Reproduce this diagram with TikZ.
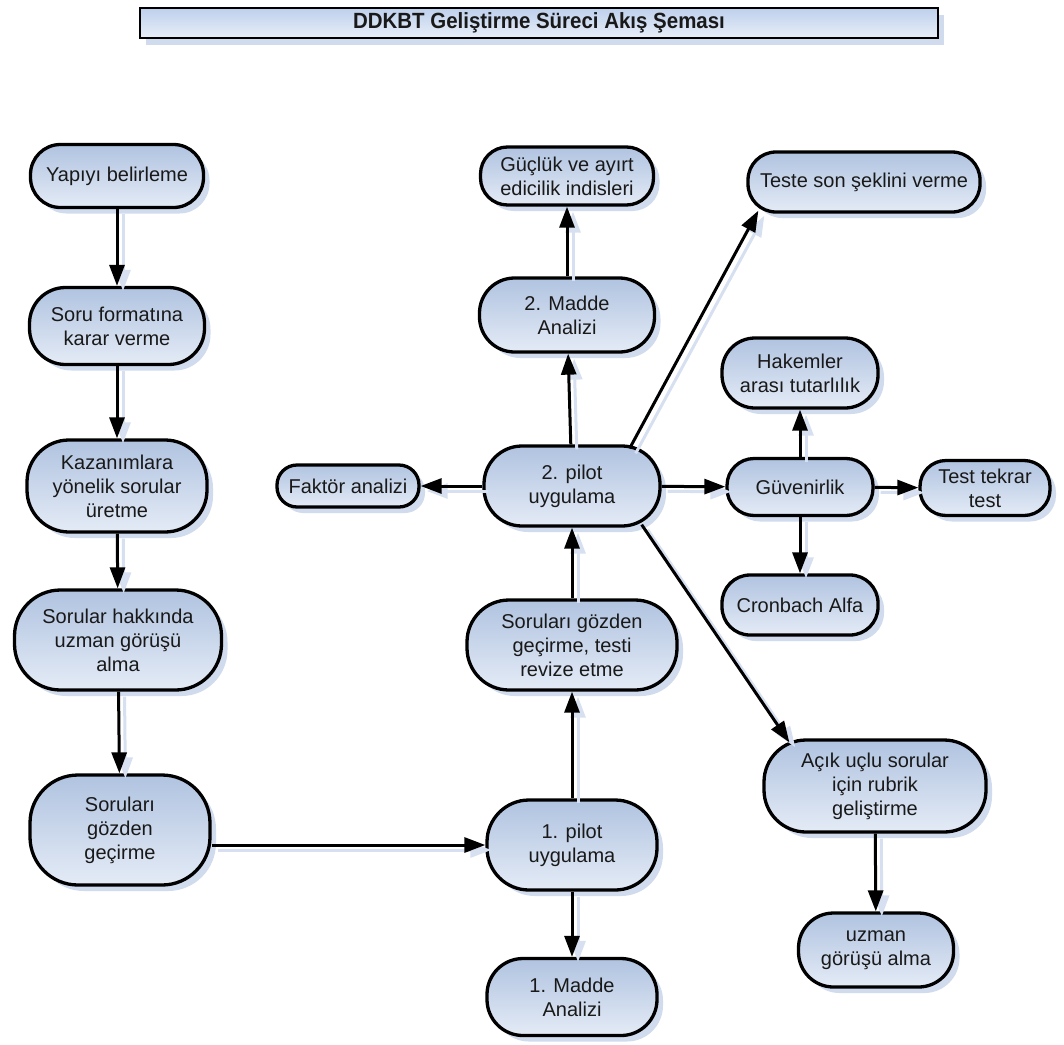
\documentclass[tikz,border=0pt]{standalone}
\usepackage{fontspec}
\setmainfont{Liberation Sans}
\usetikzlibrary{arrows.meta,shadows,calc}
\definecolor{topc}{RGB}{176,195,224}
\definecolor{botc}{RGB}{228,235,246}
\definecolor{shad}{RGB}{196,210,232}
\definecolor{ashad}{RGB}{214,224,240}
\definecolor{txt}{RGB}{25,25,25}
\definecolor{ttop}{RGB}{190,208,236}
\definecolor{tbot}{RGB}{232,238,248}
\begin{document}
\begin{tikzpicture}[x=1pt,y=-1pt,
  pill/.style n args={3}{draw=black, line width=3.3pt, rounded corners=#3,
    minimum width=#1, minimum height=#2, inner sep=0pt, align=center,
    top color=topc, bottom color=botc, text=txt,
    font=\fontsize{20}{24}\selectfont,
    drop shadow={shadow xshift=6pt, shadow yshift=-6pt, fill=shad, opacity=0.8}},
  titlebox/.style={draw=black, line width=2.8pt, minimum width=798pt, minimum height=30pt,
    inner sep=0pt, top color=ttop, bottom color=tbot, text=txt,
    font=\bfseries\fontsize{22}{24}\selectfont\addfontfeature{FakeStretch=0.93},
    drop shadow={shadow xshift=6pt, shadow yshift=-7pt, fill=shad, opacity=0.8}},
  arr/.style={line width=3pt, -{Triangle[length=21pt,width=15pt]},
    preaction={draw=ashad, line width=3pt, -{Triangle[length=21pt,width=15pt]},
      transform canvas={xshift=6pt,yshift=-5pt}}},
]
\useasboundingbox (0,0) rectangle (1064,1044);

\node[titlebox] (title) at (539,23) {DDKBT Geliştirme Süreci Akış Şeması};

\node[pill={173pt}{63pt}{30pt}] (yap) at (117,176) {Yapıyı belirleme};
\node[pill={175pt}{77pt}{36pt}] (fmt) at (117,326) {Soru formatına\\karar verme};
\node[pill={180pt}{92pt}{42pt}] (kaz) at (117,486) {Kazanımlara\\yönelik sorular\\üretme};
\node[pill={207pt}{100pt}{46pt}] (uzm) at (118,640) {Sorular hakkında\\uzman görüşü\\alma};
\node[pill={180pt}{110pt}{48pt}] (gzd) at (120,830) {Soruları\\gözden\\geçirme};
\node[pill={170pt}{90pt}{42pt}] (p1) at (572,845) {1. pilot\\uygulama};
\node[pill={170pt}{77pt}{36pt}] (md1) at (572,997) {1. Madde\\Analizi};
\node[pill={210pt}{90pt}{42pt}] (rev) at (572,645) {Soruları gözden\\geçirme, testi\\revize etme};
\node[pill={176pt}{80pt}{38pt}] (p2) at (572,486) {2. pilot\\uygulama};
\node[pill={142pt}{42pt}{20pt}] (fak) at (348,486) {Faktör analizi};
\node[pill={175pt}{74pt}{35pt}] (md2) at (567,315) {2. Madde\\Analizi};
\node[pill={173pt}{58pt}{27pt}] (guc) at (567,176) {Güçlük ve ayırt\\edicilik indisleri};
\node[pill={232pt}{60pt}{28pt}] (tst) at (864,182) {Teste son şeklini verme};
\node[pill={156pt}{70pt}{33pt}] (hak) at (800,373) {Hakemler\\arası tutarlılık};
\node[pill={146pt}{57pt}{27pt}] (guv) at (800,487) {Güvenirlik};
\node[pill={130pt}{55pt}{26pt}] (ttt) at (985,488) {Test tekrar\\test};
\node[pill={156pt}{60pt}{28pt}] (cro) at (800,605) {Cronbach Alfa};
\node[pill={222pt}{92pt}{42pt}] (acik) at (875,786) {Açık uçlu sorular\\için rubrik\\geliştirme};
\node[pill={155pt}{74pt}{35pt}] (uz2) at (876,950) {uzman\\görüşü alma};

\draw[arr] (yap) -- (fmt);
\draw[arr] (fmt) -- (kaz);
\draw[arr] (kaz) -- (uzm);
\draw[arr] (uzm) -- (gzd);
\draw[arr] (gzd.east |- p1.west) -- (p1.west);
\draw[arr] (p1) -- (md1);
\draw[arr] (p1) -- (rev);
\draw[arr] (rev) -- (p2);
\draw[arr] (p2) -- (fak);
\draw[arr] (p2) -- (md2);
\draw[arr] (md2) -- (guc);
\draw[arr] ($(p2.north east)+(-32,4)$) -- ($(tst.south west)+(12,-3)$);
\draw[arr] (p2) -- (guv);
\draw[arr] (guv) -- (hak);
\draw[arr] (guv) -- (ttt);
\draw[arr] (guv) -- (cro);
\draw[arr] ($(p2.south east)+(-20,-3)$) -- ($(acik.north west)+(27,4)$);
\draw[arr] (acik) -- (uz2);
\end{tikzpicture}
\end{document}
